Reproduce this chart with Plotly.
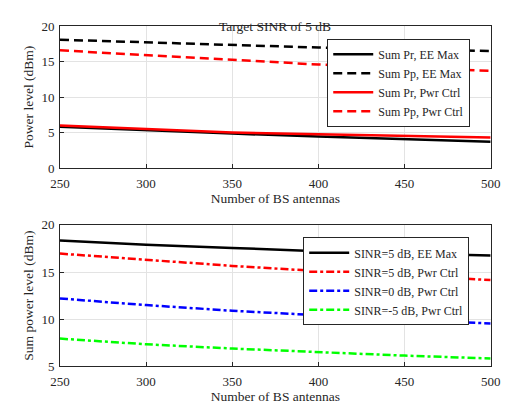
import plotly.graph_objects as go

antennas = [250, 300, 350, 400, 450, 500]

# Top panel
pr_ee = [5.8, 5.3, 4.85, 4.45, 4.1, 3.7]
pp_ee = [18.1, 17.7, 17.3, 17.0, 16.75, 16.5]
pr_pc = [6.0, 5.45, 5.0, 4.75, 4.5, 4.3]
pp_pc = [16.6, 15.9, 15.2, 14.6, 14.1, 13.7]
top_names = ["Sum Pr, EE Max", "Sum Pp, EE Max", "Sum Pr, Pwr Ctrl", "Sum Pp, Pwr Ctrl"]

# Bottom panel
s5_ee = [18.35, 17.9, 17.55, 17.2, 16.95, 16.75]
s5_pc = [16.95, 16.3, 15.65, 15.1, 14.6, 14.15]
s0_pc = [12.2, 11.5, 10.9, 10.4, 9.95, 9.55]
sm5_pc = [7.95, 7.35, 6.9, 6.5, 6.15, 5.85]
bot_names = ["SINR=5 dB, EE Max", "SINR=5 dB, Pwr Ctrl", "SINR=0 dB, Pwr Ctrl", "SINR=-5 dB, Pwr Ctrl"]

W, H = 517, 414
FONT = "Liberation Serif"
TXT = "#262626"

fig = go.Figure()

top_series = [(pr_ee, "black", "solid"), (pp_ee, "black", "9px,5px"),
              (pr_pc, "#ff0000", "solid"), (pp_pc, "#ff0000", "9px,5px")]
for (ys, c, d), n in zip(top_series, top_names):
    fig.add_trace(go.Scatter(x=antennas, y=ys, mode="lines", name=n,
                             line=dict(color=c, width=2.5, dash=d),
                             xaxis="x", yaxis="y", legend="legend"))

bot_series = [(s5_ee, "black", "solid"), (s5_pc, "#ff0000", "8px,3px,3px,3px"),
              (s0_pc, "#0000ff", "8px,3px,3px,3px"), (sm5_pc, "#00ff00", "8px,3px,3px,3px")]
for (ys, c, d), n in zip(bot_series, bot_names):
    fig.add_trace(go.Scatter(x=antennas, y=ys, mode="lines", name=n,
                             line=dict(color=c, width=2.5, dash=d),
                             xaxis="x2", yaxis="y2", legend="legend2"))

xd = [52 / W, 500 / W]
axis_common = dict(showline=True, linecolor=TXT, linewidth=1, mirror=True,
                   ticks="inside", ticklen=4, tickcolor=TXT,
                   showgrid=True, gridcolor="#e3e3e3", gridwidth=1, zeroline=False,
                   tickfont=dict(family=FONT, size=13, color=TXT))
title_font = dict(family=FONT, size=13.5, color=TXT)
legend_common = dict(xanchor="left", yanchor="top", bgcolor="white",
                     bordercolor=TXT, borderwidth=1,
                     font=dict(family=FONT, size=12, color=TXT),
                     tracegroupgap=0, itemwidth=40)

fig.update_layout(
    width=W, height=H, margin=dict(l=0, r=0, t=0, b=0),
    paper_bgcolor="white", plot_bgcolor="white",
    font=dict(family=FONT, size=12, color=TXT),
    xaxis=dict(domain=xd, range=[250, 500], dtick=50, anchor="y", ticklabelstandoff=3,
               title=dict(text="Number of BS antennas", font=title_font, standoff=2),
               **axis_common),
    yaxis=dict(domain=[1 - 167 / H, 1 - 20 / H], range=[0, 20], dtick=5, anchor="x",
               ticklabelstandoff=2,
               title=dict(text="Power level (dBm)", font=title_font, standoff=4),
               **axis_common),
    xaxis2=dict(domain=xd, range=[250, 500], dtick=50, anchor="y2", ticklabelstandoff=3,
                title=dict(text="Number of BS antennas", font=title_font, standoff=2),
                **axis_common),
    yaxis2=dict(domain=[1 - 373 / H, 1 - 226 / H], range=[5, 20], dtick=5, anchor="x2",
                ticklabelstandoff=2,
                title=dict(text="Sum power level (dBm)", font=title_font, standoff=4),
                **axis_common),
    legend=dict(x=330 / W, y=1 - 33 / H, **legend_common),
    legend2=dict(x=305 / W, y=1 - 239 / H, **legend_common),
    annotations=[dict(text="Target SINR of 5 dB", x=(52 + 500) / 2 / W, y=1 - 10 / H,
                      xref="paper", yref="paper", showarrow=False,
                      font=dict(family=FONT, size=13.5, color=TXT))],
)

fig.write_html("out.html")
